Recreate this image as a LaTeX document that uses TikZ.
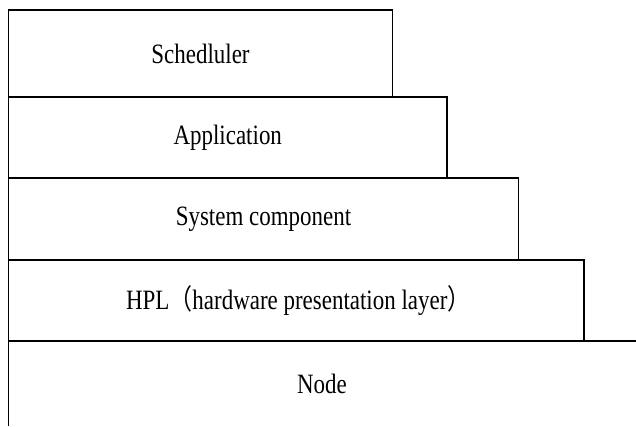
\documentclass[tikz,border=0pt]{standalone}
\usepackage{fontspec}
\setmainfont{Liberation Serif}[FakeStretch=0.82]
\newfontfamily\cjk{Noto Sans CJK SC}[FakeStretch=0.82]
\tikzset{
  layer/.style={draw, rectangle, line width=1.2pt, inner sep=0pt,
    font=\fontsize{28}{30}\selectfont},
  label/.style={font=\fontsize{28}{30}\selectfont}
}

\begin{document}
\begin{tikzpicture}[x=1pt,y=1pt]
    \useasboundingbox (0,0) rectangle (636,-426);

    \node[layer, minimum width=384pt, minimum height=87pt] (S) at (200.5,-53.5) {Schedluler};
    \node[layer, minimum width=438.5pt, minimum height=81pt] (A) at (227.75,-137.5) {Application};
    \node[layer, minimum width=510pt, minimum height=82pt] (C) at (263.5,-219) {System component};
    \node[layer, minimum width=575.5pt, minimum height=81pt] (H) at (296.25,-300.5) {\hspace*{4pt}HPL{\cjk （}hardware presentation layer{\cjk ）}};

    \coordinate (N1) at (8.5,-341);
    \coordinate (N2) at (636,-341);
    \coordinate (N3) at (8.5,-426);
    \draw[line width=1.2pt] (N2) -- (N1) -- (N3);
    \node[label] (N) at (322,-383.5) {Node};

\end{tikzpicture}
\end{document}
